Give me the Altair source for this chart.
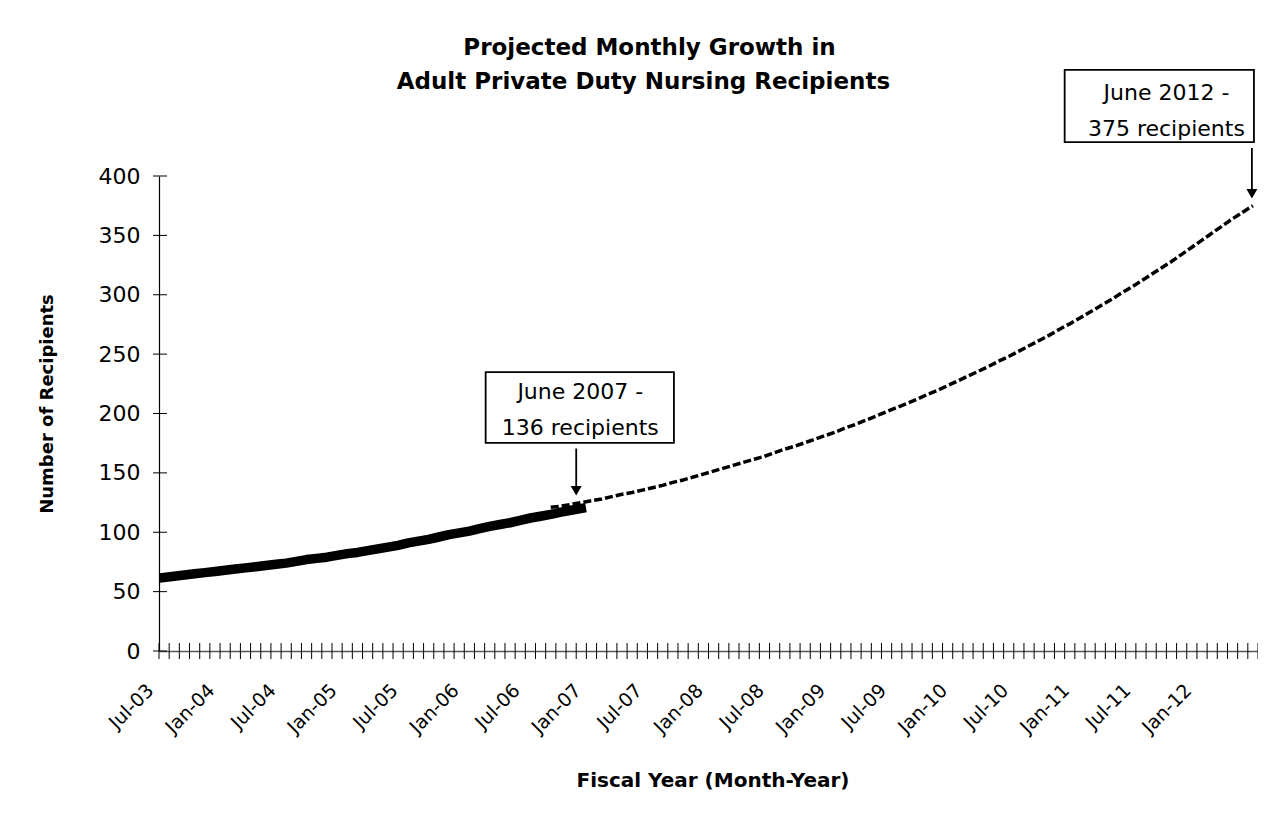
import altair as alt
import pandas as pd

# ---- data ----
title_lines = ["Projected Monthly Growth in", "Adult Private Duty Nursing Recipients"]
tick_labels = ["Jul-03", "Jan-04", "Jul-04", "Jan-05", "Jul-05", "Jan-06", "Jul-06",
               "Jan-07", "Jul-07", "Jan-08", "Jul-08", "Jan-09", "Jul-09", "Jan-10",
               "Jul-10", "Jan-11", "Jul-11", "Jan-12"]
n_months = 108  # Jul-03 .. Jun-12

# actual (solid, thick) monthly recipients, starting Jul-03
actual_values = [62, 63, 64, 65, 66, 67, 68, 69, 70, 71, 72, 73, 74, 75.5, 77, 78,
                 79, 80.5, 82, 83, 84.5, 86, 87.5, 89, 91, 92.5, 94, 96, 98, 99.5,
                 101, 103, 105, 106.5, 108, 110, 112, 113.5, 115, 117, 118.5, 120]
actual_start = 0

# projected (dashed) monthly recipients, starting at month index 38
projected_values = [121, 122, 123.5, 125, 126.5, 128, 130, 132, 133.5, 135.5, 137.5,
                    139.5, 142, 144, 146.5, 149, 151.5, 154, 156.5, 159, 161.5, 164,
                    167, 170, 172.5, 175.5, 178.5, 181.5, 184.5, 188, 191, 194.5, 198,
                    201.5, 205, 208.5, 212, 216, 219.5, 223.5, 227.5, 231.5, 235.5,
                    239.5, 244, 248, 252.5, 257, 261.5, 266, 271, 275.5, 280.5, 285.5,
                    290.5, 295.5, 301, 306, 311.5, 317, 322.5, 328, 334, 340, 346, 352,
                    358, 364, 369.5, 375]
projected_start = 38

ann_text_1 = ["June 2007 -", "136 recipients"]
ann_text_2 = ["June 2012 -", "375 recipients"]

W, H = 1099, 475
FONT = "DejaVu Sans"

df_actual = pd.DataFrame({"pos": [actual_start + i + 0.5 for i in range(len(actual_values))],
                          "v": actual_values})
df_proj = pd.DataFrame({"pos": [projected_start + i + 0.5 for i in range(len(projected_values))],
                        "v": projected_values})
df_xticks = pd.DataFrame({"pos": list(range(0, n_months + 1))})
df_yticks = pd.DataFrame({"v": list(range(0, 401, 50))})

label_pos = [i * 6 + 0.5 for i in range(len(tick_labels))]
label_expr = "[" + ",".join("'" + s + "'" for s in tick_labels) + "][floor(datum.value/6)]"

xscale = alt.Scale(domain=[0, n_months], nice=False, zero=False)
yscale = alt.Scale(domain=[0, 400], nice=False)

x_axis = alt.Axis(values=label_pos, labelExpr=label_expr, ticks=False, grid=False,
                  labelAngle=-45, labelAlign="right", labelBaseline="middle",
                  labelPadding=36, labelOffset=-14, labelFontSize=19, labelFont=FONT,
                  labelColor="black", domainColor="#555555", domainWidth=1.5,
                  title="Fiscal Year (Month-Year)", titleFont=FONT, titleFontSize=20,
                  titleFontWeight="bold", titleColor="black", titleX=W / 2 + 4,
                  titleY=129, titleBaseline="middle", titleAlign="center",
                  labelOverlap=False, labelBound=False)
y_axis = alt.Axis(values=list(range(0, 401, 50)), ticks=False, grid=False,
                  labelPadding=19, labelFontSize=22, labelFont=FONT, labelColor="black",
                  domainColor="black", domainWidth=1.2,
                  title="Number of Recipients", titleFont=FONT, titleFontSize=18,
                  titleFontWeight="bold", titleColor="black", titleX=-112, titleY=H / 2 - 10,
                  titleAngle=-90, titleAlign="center", titleBaseline="middle")


def X(field="pos"):
    return alt.X(field + ":Q", scale=xscale, axis=x_axis)


def Y(field="v"):
    return alt.Y(field + ":Q", scale=yscale, axis=y_axis)


xticks = alt.Chart(df_xticks).mark_rule(color="black", strokeWidth=1).encode(
    x=X(), y=alt.value(H - 8), y2=alt.value(H + 8),
)
yticks = alt.Chart(df_yticks).mark_rule(color="black", strokeWidth=1).encode(
    y=Y(), x=alt.value(-6), x2=alt.value(8),
)

proj_line = alt.Chart(df_proj).mark_line(color="black", strokeWidth=3.5,
                                         strokeDash=[8, 3]).encode(x=X(), y=Y())
actual_line = alt.Chart(df_actual).mark_line(color="black", strokeWidth=9.5,
                                             strokeJoin="round",
                                             strokeCap="square").encode(x=X(), y=Y())

df_boxes = pd.DataFrame({"pos": [32.1, 89.0], "pos2": [50.6, 107.6],
                         "v": [175.2, 428.6], "v2": [234.9, 489.3]})
boxes = alt.Chart(df_boxes).mark_rect(fill="white", stroke="black", strokeWidth=1.8).encode(
    x=X(), x2="pos2:Q", y=Y(), y2="v2:Q",
)

df_texts = pd.DataFrame({
    "pos": [41.4, 41.4, 99.0, 99.0],
    "v": [218.0, 188.0, 469.9, 439.6],
    "t": ann_text_1 + ann_text_2,
})
texts = alt.Chart(df_texts).mark_text(font=FONT, fontSize=22, color="black",
                                      align="center", baseline="middle").encode(
    x=X(), y=Y(), text="t:N",
)

df_title = pd.DataFrame({"pos": [48.2, 47.6], "v": [507.5, 479.5], "t": title_lines})
title = alt.Chart(df_title).mark_text(font=FONT, fontSize=23, fontWeight="bold",
                                      color="black", align="center",
                                      baseline="middle").encode(
    x=X(), y=Y(), text="t:N",
)

df_arrows = pd.DataFrame({"pos": [41.0, 107.4], "v": [170.5, 423.6], "v2": [133.0, 384.0]})
arrow_shafts = alt.Chart(df_arrows).mark_rule(color="black", strokeWidth=1.8).encode(
    x=X(), y=Y(), y2="v2:Q",
)
df_heads = pd.DataFrame({"pos": [41.0, 107.4], "v": [135.0, 385.0]})
arrow_heads = alt.Chart(df_heads).mark_point(shape="triangle-down", filled=True,
                                             color="black", size=120, opacity=1).encode(
    x=X(), y=Y(),
)

chart = alt.layer(
    xticks, yticks, proj_line, actual_line, boxes, texts, title,
    arrow_shafts, arrow_heads,
).properties(
    width=W, height=H,
    autosize=alt.AutoSizeParams(type="none"),
    padding={"left": 151, "top": 168, "right": 0, "bottom": 150},
    background="white",
).configure_view(stroke=None)

chart.save("out.html", embed_options={"renderer": "svg", "actions": False})
